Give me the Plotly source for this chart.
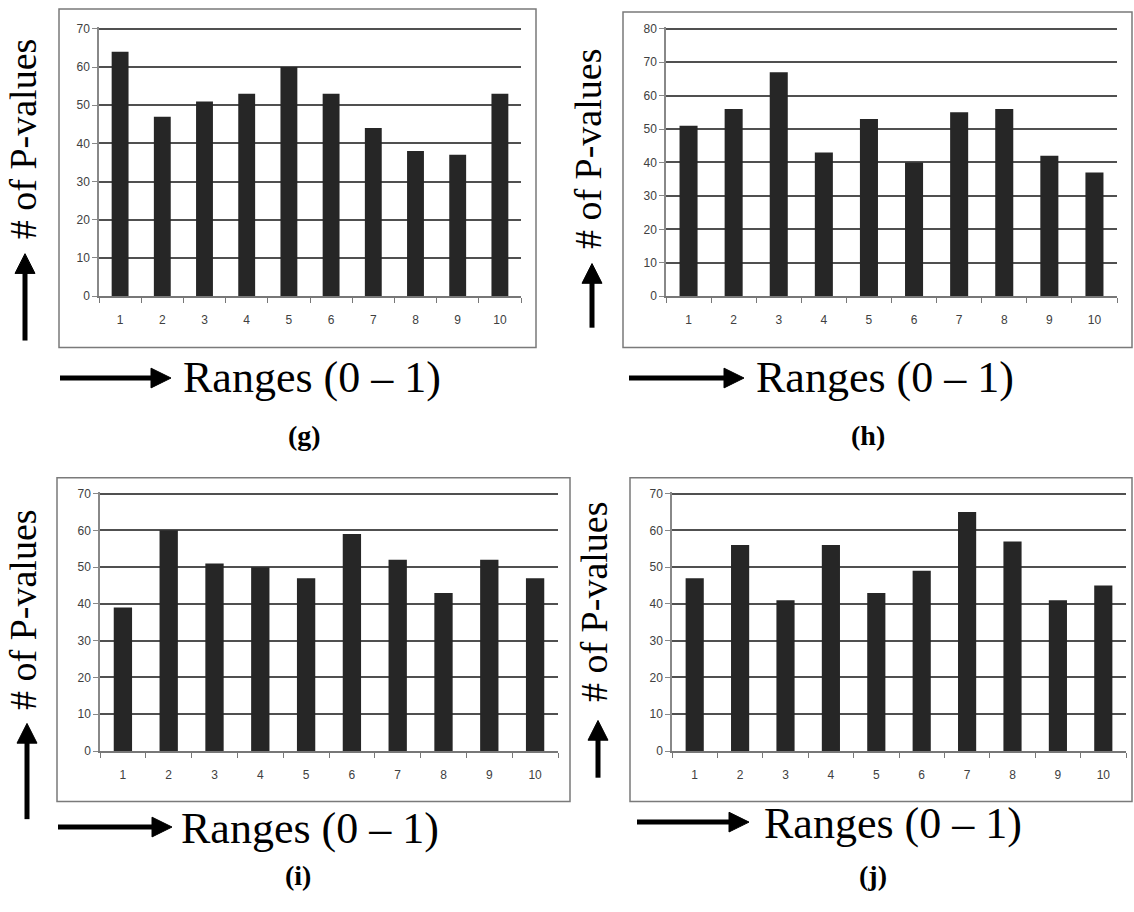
import plotly.graph_objects as go

W, H = 1134, 912

# ---------------- data ----------------
categories = ["1", "2", "3", "4", "5", "6", "7", "8", "9", "10"]
values_g = [64, 47, 51, 53, 60, 53, 44, 38, 37, 53]
values_h = [51, 56, 67, 43, 53, 40, 55, 56, 42, 37]
values_i = [39, 60, 51, 50, 47, 59, 52, 43, 52, 47]
values_j = [47, 56, 41, 56, 43, 49, 65, 57, 41, 45]
y_max = {"g": 70, "h": 80, "i": 70, "j": 70}
panel_labels = ["(g)", "(h)", "(i)", "(j)"]
y_title = "# of P-values"
x_title = "Ranges (0 \u2013 1)"


def X(px):
    return px / W


def Y(py):
    return 1 - py / H


fig = go.Figure()

# panel geometry in pixels
panels = [
    dict(key="g", vals=values_g, plot=(99, 521, 22, 295), frame=(59, 536, 4, 347),
         ytitle=(23, 136), uparrow=(25, 340, 252), rarrow=(60, 171, 378),
         xtitle=(181, 377), label=(304, 436)),
    dict(key="h", vals=values_h, plot=(666, 1117, 22, 295), frame=(623, 1132, 7, 347),
         ytitle=(588, 146), uparrow=(592, 327, 262), rarrow=(629, 744, 378),
         xtitle=(754, 377), label=(868, 436)),
    dict(key="i", vals=values_i, plot=(100, 558, 493, 756), frame=(57, 570, 479, 807),
         ytitle=(23, 613), uparrow=(27, 825, 728), rarrow=(58, 172, 833),
         xtitle=(179, 834), label=(298, 882)),
    dict(key="j", vals=values_j, plot=(672, 1126, 493, 756), frame=(630, 1132, 479, 807),
         ytitle=(594, 605), uparrow=(598, 783, 725), rarrow=(637, 749, 828),
         xtitle=(762, 829), label=(873, 882)),
]

shapes = []
annotations = []
tick_font = dict(family="Liberation Sans, Arial, sans-serif", size=12, color="#404040")
serif = "Liberation Serif, Times New Roman, serif"

for n, p in enumerate(panels, start=1):
    xs = "" if n == 1 else str(n)
    fig.add_trace(go.Bar(
        x=categories, y=p["vals"], xaxis="x" + xs, yaxis="y" + xs,
        marker=dict(color="#262626", line=dict(width=0)),
        width=0.4, showlegend=False,
    ))
    x0, x1, yt, yb = p["plot"]
    top = y_max[p["key"]]
    fig.update_layout(**{
        "xaxis" + xs: dict(
            domain=[X(x0), X(x1)], anchor="y" + xs, type="category",
            categoryorder="array", categoryarray=categories,
            showline=True, linecolor="#777777", linewidth=1.5,
            ticks="outside", tickson="boundaries", ticklen=5, tickcolor="#777777",
            showgrid=False, zeroline=False, tickfont=tick_font,
            ticklabelstandoff=12, fixedrange=True,
        ),
        "yaxis" + xs: dict(
            domain=[Y(yb), Y(yt)], anchor="x" + xs,
            range=[0, top * 1.008], tickvals=list(range(0, top + 1, 10)),
            showline=True, linecolor="#888888", linewidth=1.5,
            ticks="outside", ticklen=5, tickcolor="#888888",
            showgrid=True, gridcolor="#505050", gridwidth=1.5,
            zeroline=False, tickfont=tick_font, fixedrange=True,
        ),
    })

    # frame
    fx0, fx1, fy0, fy1 = p["frame"]
    shapes.append(dict(type="rect", xref="paper", yref="paper",
                       x0=X(fx0), x1=X(fx1), y0=Y(fy1), y1=Y(fy0),
                       line=dict(color="#7a7a7a", width=1.5), fillcolor="rgba(0,0,0,0)",
                       layer="below"))

    # up arrow
    ax, ab, at = p["uparrow"]
    head = 20
    shapes.append(dict(type="line", xref="paper", yref="paper",
                       x0=X(ax), x1=X(ax), y0=Y(ab), y1=Y(at + head - 1),
                       line=dict(color="black", width=5)))
    shapes.append(dict(type="path", xref="paper", yref="paper",
                       path=f"M {X(ax - 10)},{Y(at + head)} L {X(ax + 10)},{Y(at + head)} L {X(ax)},{Y(at)} Z",
                       fillcolor="black", line=dict(color="black", width=1)))

    # right arrow
    rx0, rx1, ry = p["rarrow"]
    shapes.append(dict(type="line", xref="paper", yref="paper",
                       x0=X(rx0), x1=X(rx1 - head + 1), y0=Y(ry), y1=Y(ry),
                       line=dict(color="black", width=5)))
    shapes.append(dict(type="path", xref="paper", yref="paper",
                       path=f"M {X(rx1 - head)},{Y(ry - 10)} L {X(rx1 - head)},{Y(ry + 10)} L {X(rx1)},{Y(ry)} Z",
                       fillcolor="black", line=dict(color="black", width=1)))

    # y title
    tx, ty = p["ytitle"]
    annotations.append(dict(text=y_title, xref="paper", yref="paper",
                            x=X(tx), y=Y(ty), xanchor="center", yanchor="middle",
                            textangle=-90, showarrow=False,
                            font=dict(family=serif, size=38, color="black")))
    # x title
    qx, qy = p["xtitle"]
    annotations.append(dict(text=x_title, xref="paper", yref="paper",
                            x=X(qx), y=Y(qy), xanchor="left", yanchor="middle",
                            showarrow=False,
                            font=dict(family=serif, size=44, color="black")))
    # panel label
    lx, ly = p["label"]
    annotations.append(dict(text="<b>" + panel_labels[n - 1] + "</b>", xref="paper", yref="paper",
                            x=X(lx), y=Y(ly), xanchor="center", yanchor="middle",
                            showarrow=False,
                            font=dict(family=serif, size=28, color="black")))

fig.update_layout(
    width=W, height=H, margin=dict(l=0, r=0, t=0, b=0),
    paper_bgcolor="white", plot_bgcolor="white",
    bargap=0.6, showlegend=False,
    shapes=shapes, annotations=annotations,
)

fig.write_html("out.html", config={"displayModeBar": False},
               post_script="document.body.style.margin='0px';")
